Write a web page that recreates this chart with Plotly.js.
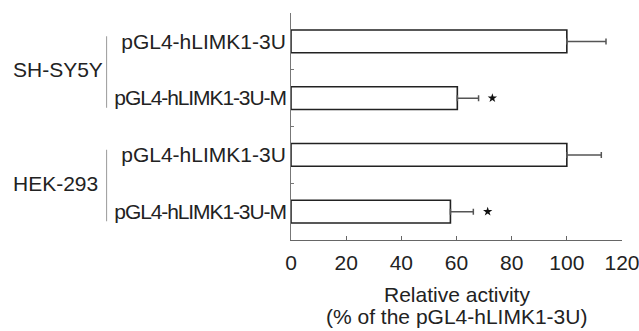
<!DOCTYPE html>
<html>
<head>
<meta charset="utf-8">
<script src="https://cdn.plot.ly/plotly-3.0.1.min.js"></script>
<style>html,body{margin:0;padding:0;background:#fff;}#chart{width:639px;height:331px;}</style>
</head>
<body>
<div id="chart"></div>
<script>
// ---- data ----
const ids = ["s1", "s2", "h1", "h2"];
const constructLabels = ["pGL4-hLIMK1-3U", "pGL4-hLIMK1-3U-M", "pGL4-hLIMK1-3U", "pGL4-hLIMK1-3U-M"];
const activity = [100, 60.3, 100, 57.8];
const errPlus = [14.2, 7.7, 12.5, 8.3];
const groups = ["SH-SY5Y", "HEK-293"];
const groupStart = [0, 2];
const groupEnd = [1, 3];
const starIds = ["s2", "h2"];
const starX = [73, 71.3];
const xTickVals = [0, 20, 40, 60, 80, 100, 120];
const xTitle1 = "Relative activity";
const xTitle2 = "(% of the pGL4-hLIMK1-3U)";

const FONT = "Liberation Sans, Arial, sans-serif";
const FS = 21;

const traces = [
  {
    type: "bar", orientation: "h",
    y: ids, x: activity, width: 0.4,
    marker: {color: "#ffffff", line: {color: "#222", width: 1.6}},
    error_x: {type: "data", symmetric: false, array: errPlus, arrayminus: ids.map(() => 0),
              color: "#555", thickness: 1.5, width: 3},
    hoverinfo: "skip", showlegend: false
  },
  {
    type: "scatter", mode: "markers",
    y: starIds, x: starX,
    marker: {symbol: "star", size: 7, color: "#111"},
    hoverinfo: "skip", showlegend: false
  }
];

// the longer construct names are set slightly tighter in the original
const tickText = constructLabels.map(t =>
  t.length > 14 ? '<span style="letter-spacing:-1.1px">' + t + '</span>' : t);

const nCat = ids.length;
const idxToPaper = (i) => 1 - (i + 0.5) / nCat;   // reversed category axis
const annotations = [];
const shapes = [];
const plotL = 290.5, plotW = 331.2;
groups.forEach((g, i) => {
  annotations.push({
    text: g, xref: "paper", yref: "paper",
    x: (10.5 - plotL) / plotW, y: idxToPaper((groupStart[i] + groupEnd[i]) / 2),
    xanchor: "left", yanchor: "middle", showarrow: false,
    font: {family: FONT, size: FS, color: "#222"}
  });
  shapes.push({
    type: "line", xref: "paper", yref: "paper",
    x0: (106 - plotL) / plotW, x1: (106 - plotL) / plotW,
    y0: idxToPaper(groupStart[i] - 0.09), y1: idxToPaper(groupEnd[i] + 0.17),
    line: {color: "#999", width: 1}
  });
});
annotations.push({
  text: xTitle1, xref: "paper", yref: "paper", x: 0.5, y: 0,
  xanchor: "center", yanchor: "middle", yshift: -54, showarrow: false,
  font: {family: FONT, size: FS, color: "#222"}
});
annotations.push({
  text: xTitle2, xref: "paper", yref: "paper", x: 0.5, y: 0,
  xanchor: "center", yanchor: "middle", yshift: -76, showarrow: false,
  font: {family: FONT, size: FS, color: "#222"}
});

const layout = {
  width: 639, height: 331,
  margin: {l: 290.5, r: 17.3, t: 13, b: 91, pad: 0},
  paper_bgcolor: "#fff", plot_bgcolor: "#fff",
  font: {family: FONT, size: FS, color: "#222"},
  showlegend: false,
  xaxis: {
    range: [0, 120], tickmode: "array", tickvals: xTickVals, ticktext: xTickVals.map(String),
    showgrid: false, zeroline: false,
    showline: true, linecolor: "#666", linewidth: 1,
    ticks: "inside", ticklen: 4, tickcolor: "#666", tickwidth: 1,
    ticklabeloverflow: "allow", ticklabelstandoff: 4,
    tickfont: {family: FONT, size: FS, color: "#222"},
    fixedrange: true
  },
  yaxis: {
    type: "category", categoryorder: "array", categoryarray: ids,
    autorange: "reversed", range: [3.5, -0.5],
    tickmode: "array", tickvals: ids, ticktext: tickText,
    tickson: "boundaries",
    showgrid: false, zeroline: false,
    showline: true, linecolor: "#777", linewidth: 1,
    ticks: "inside", ticklen: 3, tickcolor: "#777",
    tickfont: {family: FONT, size: FS, color: "#222"},
    fixedrange: true
  },
  annotations: annotations,
  shapes: shapes
};

Plotly.newPlot("chart", traces, layout, {displayModeBar: false, staticPlot: true});
</script>
</body>
</html>
